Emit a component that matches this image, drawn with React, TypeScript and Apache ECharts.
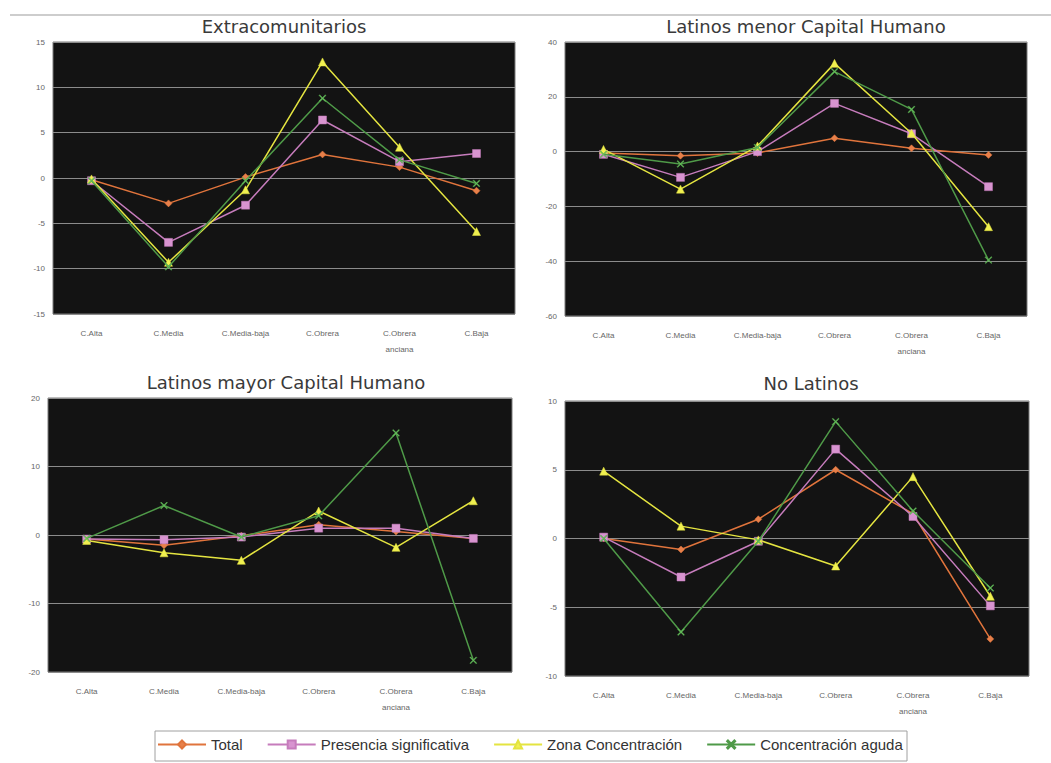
import React, { useEffect, useRef } from "react";
import * as echarts from "echarts";

const categories = ["C.Alta", "C.Media", "C.Media-baja", "C.Obrera", "C.Obrera\nanciana", "C.Baja"];
const seriesNames = ["Total", "Presencia significativa", "Zona Concentración", "Concentración aguda"];
const panelTitles = ["Extracomunitarios", "Latinos menor Capital Humano", "Latinos mayor Capital Humano", "No Latinos"];

// Extracomunitarios
const extraTotal = [-0.2, -2.8, 0.1, 2.6, 1.2, -1.4];
const extraPresencia = [-0.3, -7.1, -3.0, 6.4, 1.8, 2.7];
const extraZona = [-0.1, -9.3, -1.3, 12.8, 3.4, -5.9];
const extraAguda = [-0.3, -9.8, -0.3, 8.8, 2.0, -0.6];

// Latinos menor Capital Humano
const menorTotal = [-0.5, -1.5, -0.5, 4.9, 1.2, -1.2];
const menorPresencia = [-1.0, -9.4, 0.0, 17.6, 6.5, -12.8];
const menorZona = [0.8, -13.7, 2.0, 32.2, 6.7, -27.4];
const menorAguda = [-1.0, -4.5, 1.5, 29.2, 15.4, -39.6];

// Latinos mayor Capital Humano
const mayorTotal = [-0.6, -1.5, -0.1, 1.5, 0.5, -0.5];
const mayorPresencia = [-0.6, -0.7, -0.3, 1.0, 1.0, -0.5];
const mayorZona = [-0.8, -2.6, -3.7, 3.5, -1.8, 5.0];
const mayorAguda = [-0.5, 4.3, -0.3, 2.8, 14.9, -18.3];

// No Latinos
const noTotal = [0.0, -0.8, 1.4, 5.0, 1.8, -7.3];
const noPresencia = [0.1, -2.8, -0.2, 6.5, 1.6, -4.9];
const noZona = [4.9, 0.9, -0.1, -2.0, 4.5, -4.2];
const noAguda = [0.0, -6.8, -0.2, 8.5, 2.0, -3.6];

// y-axis ranges [min, max, interval]
const yRanges = [
  [-15, 15, 5],
  [-60, 40, 20],
  [-20, 20, 10],
  [-10, 10, 5],
];

const panelData = [
  [extraTotal, extraPresencia, extraZona, extraAguda],
  [menorTotal, menorPresencia, menorZona, menorAguda],
  [mayorTotal, mayorPresencia, mayorZona, mayorAguda],
  [noTotal, noPresencia, noZona, noAguda],
];

const X_PATH = "path://M1,0L5,4L9,0L10,1L6,5L10,9L9,10L5,6L1,10L0,9L4,5L0,1Z";

const styles = [
  { line: "#e0743c", fill: "#e8804a", symbol: "diamond", size: 7 },
  { line: "#c67cbc", fill: "#d894d0", symbol: "rect", size: 8 },
  { line: "#e4e440", fill: "#f0f050", symbol: "triangle", size: 8 },
  { line: "#4f9a48", fill: "#6cc860", symbol: X_PATH, size: 7 },
];

export default function App() {
  const ref = useRef<HTMLDivElement>(null);

  useEffect(() => {
    if (!ref.current) return;
    const chart = echarts.init(ref.current, null, { renderer: "svg" });

    const grids = [
      { left: 53, top: 42, width: 462, height: 272 },
      { left: 565, top: 42, width: 462, height: 274 },
      { left: 48, top: 398, width: 464, height: 274 },
      { left: 565, top: 401, width: 464, height: 275 },
    ];
    const titlePos = [
      [284, 26],
      [806, 26],
      [286, 382],
      [811, 383],
    ];

    const series: any[] = [];
    panelData.forEach((sets, p) => {
      sets.forEach((vals, s) => {
        const st = styles[s];
        series.push({
          type: "line",
          name: seriesNames[s],
          xAxisIndex: p,
          yAxisIndex: p,
          data: vals,
          symbol: st.symbol,
          symbolSize: st.size,
          showAllSymbol: true,
          lineStyle: { color: st.line, width: 1.5 },
          itemStyle: { color: st.fill, borderColor: st.line, borderWidth: 0.5 },
          color: st.line,
          z: 2 + s,
        });
      });
    });

    const option: any = {
      animation: false,
      backgroundColor: "#ffffff",
      grid: grids.map((g) => ({
        ...g,
        show: true,
        backgroundColor: "#131313",
        borderColor: "#7a7a7a",
        borderWidth: 1,
        containLabel: false,
      })),
      xAxis: grids.map((_, i) => ({
        type: "category",
        gridIndex: i,
        data: categories,
        boundaryGap: true,
        axisLine: { show: false },
        axisTick: { show: false },
        axisLabel: {
          fontSize: 8,
          color: "#666",
          margin: 11,
          lineHeight: 16,
          fontFamily: "Liberation Sans",
          interval: 0,
        },
      })),
      yAxis: grids.map((_, i) => ({
        type: "value",
        gridIndex: i,
        min: yRanges[i][0],
        max: yRanges[i][1],
        interval: yRanges[i][2],
        axisLine: { show: false },
        axisTick: { show: false },
        axisLabel: { fontSize: 8, color: "#666", margin: 8, fontFamily: "Liberation Sans" },
        splitLine: { show: true, lineStyle: { color: "#8c8c8c", width: 1.2 } },
      })),
      legend: {
        data: seriesNames,
        left: 157,
        top: 737,
        itemWidth: 48,
        itemHeight: 10,
        itemGap: 24,
        padding: 0,
        textStyle: { fontSize: 15, color: "#333", fontFamily: "Liberation Sans" },
      },
      graphic: [
        {
          type: "line",
          shape: { x1: 10, y1: 15, x2: 1051, y2: 15 },
          style: { stroke: "#bdbdbd", lineWidth: 1.5 },
        },
        {
          type: "rect",
          shape: { x: 155, y: 731, width: 752, height: 30 },
          style: { fill: "none", stroke: "#a0a0a0", lineWidth: 1 },
        },
        ...panelTitles.map((t, i) => ({
          type: "text",
          x: titlePos[i][0],
          y: titlePos[i][1],
          style: {
            text: t,
            fontSize: 18,
            fontFamily: "DejaVu Sans",
            fill: "#3a3a3a",
            textAlign: "center",
            textVerticalAlign: "middle",
          },
        })),
      ],
      series,
    };

    chart.setOption(option);
    return () => chart.dispose();
  }, []);

  return (
    <div
      ref={ref}
      style={{ position: "absolute", left: 0, top: 0, width: 1051, height: 763 }}
    />
  );
}
